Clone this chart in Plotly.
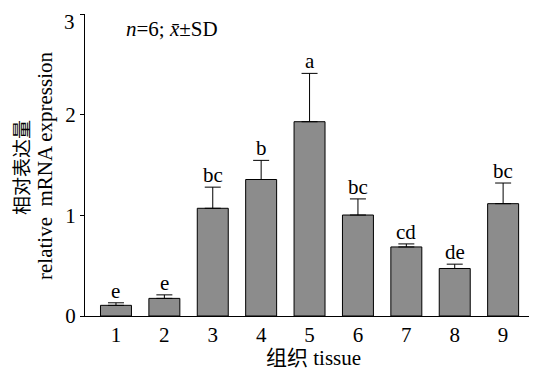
import plotly.graph_objects as go

tissues = ["1", "2", "3", "4", "5", "6", "7", "8", "9"]
means = [0.106, 0.175, 1.07, 1.356, 1.93, 1.003, 0.686, 0.472, 1.116]
sds = [0.025, 0.035, 0.21, 0.19, 0.48, 0.16, 0.03, 0.043, 0.205]
letters = ["e", "e", "bc", "b", "a", "bc", "cd", "de", "bc"]
y_ticks = [0, 1, 2, 3]

FONT = "Liberation Serif, Noto Sans CJK SC, serif"
xpos = list(range(1, len(tissues) + 1))

# page body has an 8px default margin; plot area in window px: x 85..537, y 14..316
def px(xw):
    return (xw - 85) / 452

def py(yw):
    return (316 - yw) / 302

fig = go.Figure()
fig.add_trace(go.Bar(
    x=xpos, y=means, width=0.64,
    marker=dict(color="#8c8c8c", line=dict(color="black", width=1)),
    error_y=dict(type="data", array=sds, symmetric=False, arrayminus=[0]*len(sds),
                 color="black", thickness=1, width=8),
    showlegend=False,
))

for x, m, s, l in zip(xpos, means, sds, letters):
    fig.add_annotation(x=x, y=m + s, text=l, showarrow=False, xref="x", yref="y",
                       yanchor="bottom", yshift=-2, font=dict(family=FONT, size=21, color="black"))

# top tick label drawn as annotation (it would overflow the page top otherwise)
fig.add_annotation(x=px(77), y=y_ticks[-1], xref="paper", yref="y", text=str(y_ticks[-1]),
                   xanchor="right", yanchor="top", yshift=6, showarrow=False,
                   font=dict(family=FONT, size=21, color="black"))

fig.add_annotation(x=px(124), y=py(29), xref="paper", yref="paper",
                   xanchor="left", yanchor="middle",
                   text="<i>n</i>=6; <i>x\u0304</i>±SD", showarrow=False,
                   font=dict(family=FONT, size=21, color="black"))

fig.add_annotation(x=px(21), y=py(168), xref="paper", yref="paper",
                   text="相对表达量", textangle=-90, showarrow=False,
                   xanchor="center", yanchor="middle",
                   font=dict(family="Noto Sans CJK SC", size=19, color="black"))
fig.add_annotation(x=px(45), y=py(166), xref="paper", yref="paper",
                   text="relative  mRNA expression", textangle=-90, showarrow=False,
                   xanchor="center", yanchor="middle",
                   font=dict(family=FONT, size=21, color="black"))
fig.add_annotation(x=px(313), y=py(358), xref="paper", yref="paper",
                   text="组织 tissue", showarrow=False, xanchor="center", yanchor="middle",
                   font=dict(family=FONT, size=21, color="black"))

fig.update_layout(
    width=529, height=366,
    margin=dict(l=77, r=0, t=6, b=58, autoexpand=False),
    plot_bgcolor="white", paper_bgcolor="white",
    font=dict(family=FONT, size=21, color="black"),
    xaxis=dict(range=[0.36, 9.7], tickmode="array", tickvals=xpos, ticktext=tissues,
               showline=True, linecolor="black", linewidth=1, ticks="", showgrid=False,
               zeroline=False),
    yaxis=dict(range=[0, 3], tickmode="array", tickvals=y_ticks,
               ticktext=[str(t) for t in y_ticks[:-1]] + [""],
               showline=True, linecolor="black", linewidth=1,
               ticks="outside", ticklen=4, tickcolor="black", showgrid=False, zeroline=False),
)

fig.write_html("out.html")
